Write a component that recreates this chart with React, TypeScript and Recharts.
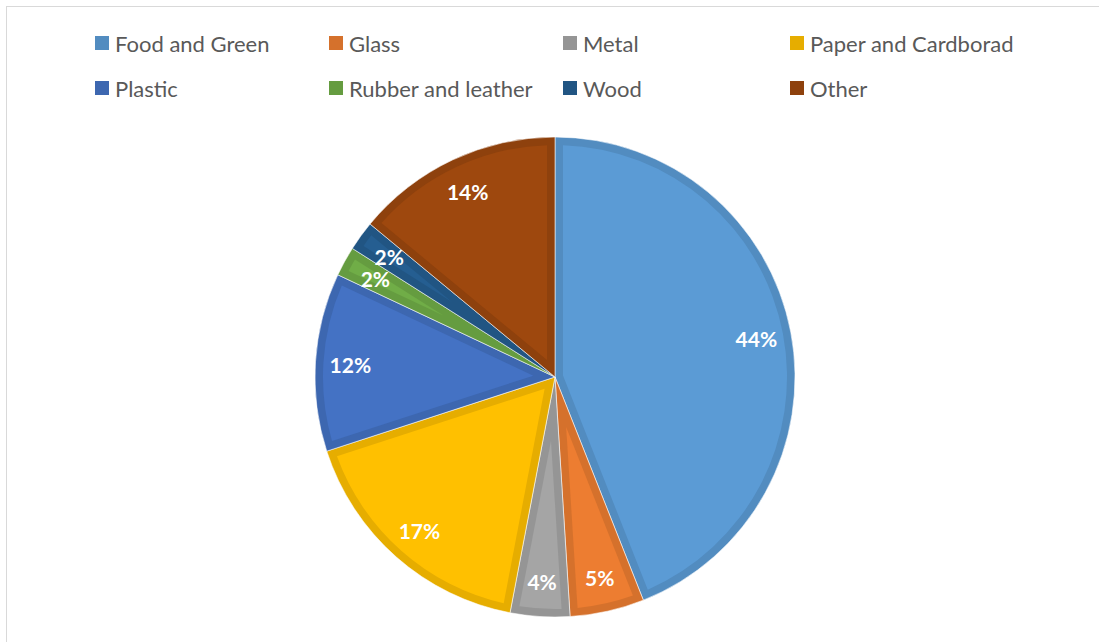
import React from 'react';
import { PieChart, Pie, Cell } from 'recharts';

const CATEGORIES = ['Food and Green', 'Glass', 'Metal', 'Paper and Cardborad', 'Plastic', 'Rubber and leather', 'Wood', 'Other'];
const SHARES = [44, 5, 4, 17, 12, 2, 2, 14];
const FILLS = ['#5B9BD5', '#ED7D31', '#A5A5A5', '#FFC000', '#4472C4', '#70AD47', '#255E91', '#9E480E'];
const BORDERS = ['#528CC0', '#D5712C', '#959595', '#E6AD00', '#3D67B0', '#659C40', '#215583', '#8E410D'];

const data = CATEGORIES.map((name, i) => ({ name, value: SHARES[i] }));

const RAD = Math.PI / 180;
const BORDER = 8;

const polar = (cx: number, cy: number, r: number, a: number) => ({
  x: cx + r * Math.cos(-a * RAD),
  y: cy + r * Math.sin(-a * RAD),
});

// lighter inner face of each slice, inset from the darker outline
const SliceFace = (props: any) => {
  const { cx, cy, outerRadius, startAngle, endAngle, midAngle, index, percent } = props;
  const lo = Math.min(startAngle, endAngle);
  const hi = Math.max(startAngle, endAngle);
  const theta = hi - lo;
  const rho = outerRadius - BORDER;
  const delta = Math.asin(BORDER / rho) / RAD;
  let face = null;
  if (theta > 2 * delta) {
    const apexR = theta < 180 ? BORDER / Math.sin((theta / 2) * RAD) : 0;
    const apex = polar(cx, cy, apexR, (lo + hi) / 2);
    const p1 = polar(cx, cy, rho, hi - delta);
    const p2 = polar(cx, cy, rho, lo + delta);
    const large = theta - 2 * delta > 180 ? 1 : 0;
    const d = `M${apex.x},${apex.y} L${p1.x},${p1.y} A${rho},${rho} 0 ${large} 1 ${p2.x},${p2.y} Z`;
    face = <path d={d} fill={FILLS[index]} stroke="none" />;
  }
  const pos = polar(cx, cy, 205, midAngle);
  return (
    <g>
      {face}
      <text
        x={pos.x}
        y={pos.y}
        fill="#fff"
        textAnchor="middle"
        dominantBaseline="central"
        fontFamily="Lato, 'Open Sans', sans-serif"
        fontWeight={700}
        fontSize={21}
      >
        {`${Math.round(percent * 100)}%`}
      </text>
    </g>
  );
};

const LegendBlock = () => (
  <div
    style={{
      position: 'absolute',
      left: 95,
      top: 31,
      width: 960,
      display: 'grid',
      gridTemplateColumns: '234px 234px 227px 234px',
      rowGap: 21,
      fontFamily: "Lato, 'Open Sans', sans-serif",
      fontSize: 22,
      color: '#595959',
    }}
  >
    {CATEGORIES.map((name, i) => (
      <div key={name} style={{ display: 'flex', alignItems: 'center', height: 24 }}>
        <span style={{ width: 14, height: 14, background: BORDERS[i], marginRight: 6, flex: 'none' }} />
        <span style={{ whiteSpace: 'nowrap' }}>{name}</span>
      </div>
    ))}
  </div>
);

export default function App() {
  return (
    <div style={{ position: 'absolute', left: 0, top: 0, width: 1099, height: 642, background: '#fff', overflow: 'hidden' }}>
      <div
        style={{
          position: 'absolute',
          left: 6,
          top: 6,
          width: 1110,
          height: 660,
          borderTop: '1px solid #d9d9d9',
          borderLeft: '1px solid #d9d9d9',
        }}
      />
      <LegendBlock />
      <div style={{ position: 'absolute', left: 0, top: 0 }}>
        <PieChart width={1099} height={642} margin={{ top: 0, right: 0, bottom: 0, left: 0 }}>
          <Pie
            data={data}
            dataKey="value"
            nameKey="name"
            cx={555}
            cy={377}
            outerRadius={240}
            startAngle={90}
            endAngle={-270}
            stroke="rgba(255,255,255,0.55)"
            strokeWidth={1}
            labelLine={false}
            label={SliceFace}
            isAnimationActive={false}
          >
            {data.map((entry, i) => (
              <Cell key={entry.name} fill={BORDERS[i]} />
            ))}
          </Pie>
        </PieChart>
      </div>
    </div>
  );
}
